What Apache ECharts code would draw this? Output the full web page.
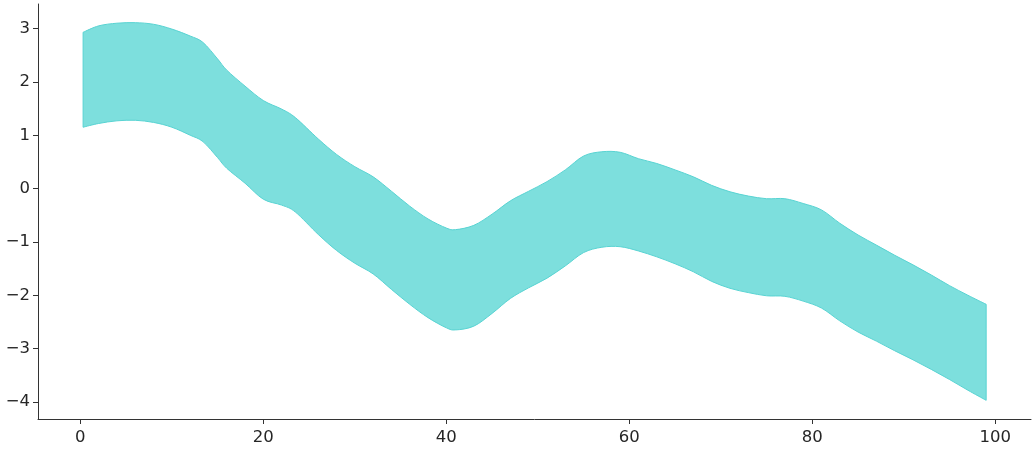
<!DOCTYPE html>
<html>
<head>
<meta charset="utf-8">
<script src="https://cdn.jsdelivr.net/npm/echarts@6/dist/echarts.min.js"></script>
<style>
  html, body { margin: 0; padding: 0; background: #fff; }
  #band-chart { width: 1035px; height: 450px; }
</style>
</head>
<body>
<div id="band-chart"></div>
<script>
// x positions of the band samples
const xs = [0.3, 2, 4, 6, 8, 10, 12, 13.4, 15, 16, 18, 20, 22, 23.5, 26, 28, 30, 32, 34, 36, 38, 40, 41,
  43, 45, 47, 49, 51, 53, 55, 57, 59, 61, 63, 65, 67, 69, 71, 73, 75, 77, 79, 81, 83, 85, 87, 89,
  91, 93, 95, 97, 99]
// upper edge of the band
const upper = [2.93, 3.05, 3.10, 3.11, 3.08, 2.99, 2.86, 2.74, 2.43, 2.22, 1.92, 1.65, 1.49, 1.33, 0.93,
  0.64, 0.41, 0.22, -0.05, -0.33, -0.57, -0.74, -0.77, -0.69, -0.48, -0.23, -0.05, 0.13, 0.35, 0.61,
  0.69, 0.68, 0.56, 0.47, 0.35, 0.22, 0.06, -0.06, -0.14, -0.19, -0.19, -0.28, -0.40, -0.65, -0.87,
  -1.06, -1.25, -1.43, -1.62, -1.82, -2.00, -2.17]
// lower edge of the band
const lower = [1.15, 1.22, 1.27, 1.28, 1.24, 1.15, 1.00, 0.88, 0.58, 0.38, 0.10, -0.20, -0.31, -0.44, -0.86,
  -1.16, -1.40, -1.60, -1.89, -2.17, -2.42, -2.61, -2.65, -2.58, -2.34, -2.06, -1.86, -1.68, -1.45, -1.20,
  -1.10, -1.09, -1.17, -1.28, -1.41, -1.56, -1.74, -1.87, -1.95, -2.01, -2.02, -2.11, -2.24, -2.48, -2.69,
  -2.86, -3.04, -3.21, -3.39, -3.58, -3.78, -3.97]
// tick labels
const xTicks = [0, 20, 40, 60, 80, 100]
const yTicks = [-4, -3, -2, -1, 0, 1, 2, 3]

const axisColor = '#333333'
const fillColor = '#7ddfdd'
const edgeColor = '#58d3d2'
const labelFont = { color: '#262626', fontSize: 16.5, fontFamily: 'DejaVu Sans' }

// catmull-rom through pixel points -> cubic bezier path commands
function smoothPath(pts, start) {
  let d = start ? `M${pts[0][0]},${pts[0][1]}` : `L${pts[0][0]},${pts[0][1]}`
  for (let i = 0; i < pts.length - 1; i++) {
    const p0 = pts[Math.max(i - 1, 0)]
    const p1 = pts[i]
    const p2 = pts[i + 1]
    const p3 = pts[Math.min(i + 2, pts.length - 1)]
    const c1 = [p1[0] + (p2[0] - p0[0]) / 6, p1[1] + (p2[1] - p0[1]) / 6]
    const c2 = [p2[0] - (p3[0] - p1[0]) / 6, p2[1] - (p3[1] - p1[1]) / 6]
    d += `C${c1[0]},${c1[1]} ${c2[0]},${c2[1]} ${p2[0]},${p2[1]}`
  }
  return d
}

const chart = echarts.init(document.getElementById('band-chart'), null, { renderer: 'canvas' })

chart.setOption({
  animation: false,
  grid: { left: 38, right: 4, top: 4, bottom: 31, outerBoundsMode: 'none' },
  xAxis: {
    type: 'value',
    min: -4.63,
    max: 103.9,
    splitLine: { show: false },
    axisLine: { show: true, onZero: false, lineStyle: { color: axisColor, width: 1 } },
    axisTick: { show: true, length: 5, customValues: xTicks, lineStyle: { color: axisColor } },
    axisLabel: { ...labelFont, margin: 10, customValues: xTicks },
  },
  yAxis: {
    type: 'value',
    min: -4.32,
    max: 3.46,
    splitLine: { show: false },
    axisLine: { show: true, onZero: false, lineStyle: { color: axisColor, width: 1 } },
    axisTick: { show: true, length: 5, customValues: yTicks, lineStyle: { color: axisColor } },
    axisLabel: {
      ...labelFont,
      margin: 8,
      customValues: yTicks,
      formatter: (v) => String(v).replace('-', '\u2212'),
    },
  },
  series: [
    {
      type: 'custom',
      data: [0],
      renderItem: (params, api) => {
        const top = xs.map((x, i) => api.coord([x, upper[i]]))
        const bottom = xs.map((x, i) => api.coord([x, lower[i]])).reverse()
        const pathData = smoothPath(top, true) + smoothPath(bottom, false) + 'Z'
        return {
          type: 'path',
          shape: { pathData: pathData },
          style: { fill: fillColor, stroke: edgeColor, lineWidth: 1 },
        }
      },
    },
  ],
})
</script>
</body>
</html>
